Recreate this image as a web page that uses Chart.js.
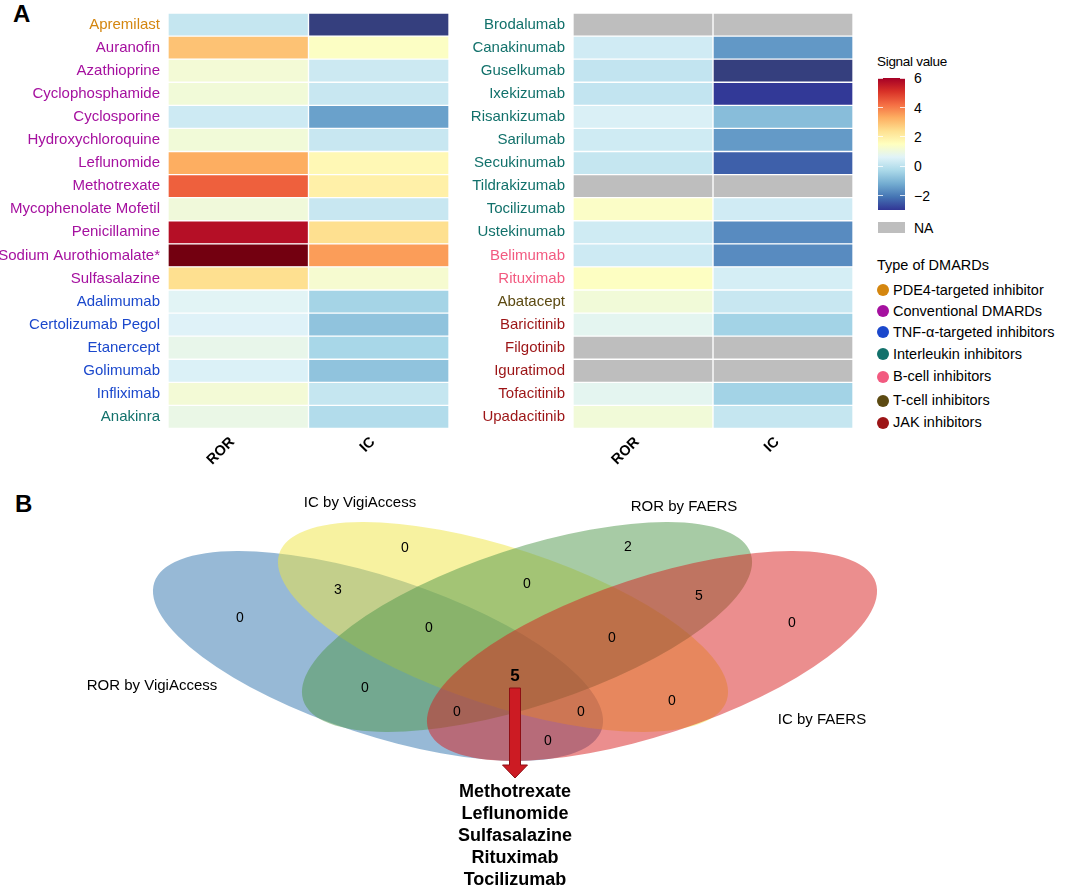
<!DOCTYPE html>
<html>
<head>
<meta charset="utf-8">
<script src="https://cdn.jsdelivr.net/npm/chart.js@4.4.1/dist/chart.umd.min.js"></script>
<style>
  body { margin: 0; background: #fff; font-family: "Liberation Sans", Arial, sans-serif; }
  #wrap { position: relative; width: 1065px; height: 887px; overflow: hidden; }
  #wrap canvas, .abs { position: absolute; }
  .abs { line-height: 1; white-space: nowrap; color: #000; }
</style>
</head>
<body>
<div id="wrap">
  <div class="abs" style="left:13px;top:2px;font-size:24px;font-weight:bold">A</div>
  <div class="abs" style="left:15px;top:492px;font-size:24px;font-weight:bold">B</div>
  <canvas id="hmLeft" width="455" height="480" style="left:0;top:0"></canvas>
  <canvas id="hmRight" width="460" height="480" style="left:400px;top:0"></canvas>
  <canvas id="venn" width="1065" height="407" style="left:0;top:480px"></canvas>
  <div id="legend"></div>
</div>
<script>
// ---- heatmap data ----
const colLabels = ["ROR", "IC"];
const groupNames = ["PDE4-targeted inhibitor", "Conventional DMARDs", "TNF-\u03b1-targeted inhibitors",
  "Interleukin inhibitors", "B-cell inhibitors", "T-cell inhibitors", "JAK inhibitors"];
const groupColors = ["#d4860f", "#a5109f", "#1b48cc", "#12716b", "#f25a80", "#5c4a12", "#9c1416"];

const leftDrugs = ["Apremilast", "Auranofin", "Azathioprine", "Cyclophosphamide", "Cyclosporine",
  "Hydroxychloroquine", "Leflunomide", "Methotrexate", "Mycophenolate Mofetil", "Penicillamine",
  "Sodium Aurothiomalate*", "Sulfasalazine", "Adalimumab", "Certolizumab Pegol", "Etanercept",
  "Golimumab", "Infliximab", "Anakinra"];
const leftGroups = [0, 1, 1, 1, 1, 1, 1, 1, 1, 1, 1, 1, 2, 2, 2, 2, 2, 3];
const leftROR = [0.14, 2.94, 1.14, 1.1, 0.28, 1.1, 3.3, 4.39, 1.07, 5.71, 7.5, 2.4, 0.65, 0.58, 0.82, 0.52, 1.14, 0.88];
const leftIC = [-3.5, 1.42, 0.26, 0.19, -1.4, 0.2, 1.7, 1.94, 0.19, 2.4, 3.54, 1.23, -0.4, -0.75, -0.35, -0.75, 0.14, -0.18];

const rightDrugs = ["Brodalumab", "Canakinumab", "Guselkumab", "Ixekizumab", "Risankizumab",
  "Sarilumab", "Secukinumab", "Tildrakizumab", "Tocilizumab", "Ustekinumab", "Belimumab",
  "Rituximab", "Abatacept", "Baricitinib", "Filgotinib", "Iguratimod", "Tofacitinib", "Upadacitinib"];
const rightGroups = [3, 3, 3, 3, 3, 3, 3, 3, 3, 3, 4, 4, 5, 6, 6, 6, 6, 6];
const rightROR = [null, 0.33, 0.09, 0.09, 0.5, 0.31, 0.14, null, 1.37, 0.31, 0.28, 1.45, 1.1, 0.73, null, null, 0.73, 1.1];
const rightIC = [null, -1.54, -3.5, -2.95, -0.87, -1.5, -2.4, null, 0.33, -1.74, -1.74, 0.41, 0.2, -0.43, null, null, -0.43, 0.14];

const barTicks = [6, 4, 2, 0, -2];

// ---- venn data ----
const vennSets = ["ROR by VigiAccess", "IC by VigiAccess", "ROR by FAERS", "IC by FAERS"];
const vennColors = ["#2f73ad", "#efe541", "#4f974b", "#d71d1d"];
const regionCounts = [0, 0, 2, 0, 3, 0, 5, 0, 0, 0, 0, 0, 0, 0, 5];
const commonDrugs = ["Methotrexate", "Leflunomide", "Sulfasalazine", "Rituximab", "Tocilizumab"];

// venn layout (in the venn chart's own units)
const ellX = [378, 503, 527, 652], ellY = [656, 627, 627, 656];
const ellA = 235.5, ellB = 78.8, ellRot = [18.2, 18.2, -18.2, -18.2];
const regionX = [240, 405, 628, 792, 338, 527, 699, 365, 672, 548, 429, 612, 457, 581, 515];
const regionY = [618, 548, 547, 623, 590, 584, 596, 688, 701, 741, 628, 638, 712, 712, 676];
const setLabelX = [152, 360, 684, 822], setLabelY = [686, 503, 507, 720];

// colour scale (RdYlBu, -3..6, darker beyond the ends)
const stops = [[-3.5, "#353f7e"], [-3, "#313695"], [-2.1, "#4575b4"], [-1.2, "#74add1"], [-0.3, "#abd9e9"],
  [0.6, "#e0f3f8"], [1.5, "#ffffbf"], [2.4, "#fee090"], [3.3, "#fdae61"], [4.2, "#f46d43"],
  [5.1, "#d73027"], [6, "#a50026"], [7.5, "#730010"]];
const hex = h => [1, 3, 5].map(i => parseInt(h.substr(i, 2), 16));
function signalColor(v) {
  if (v === null) return "#bebebe";
  if (v <= stops[0][0]) return stops[0][1];
  for (let i = 1; i < stops.length; i++) {
    if (v <= stops[i][0]) {
      const t = (v - stops[i - 1][0]) / (stops[i][0] - stops[i - 1][0]);
      const a = hex(stops[i - 1][1]), b = hex(stops[i][1]);
      return "rgb(" + a.map((c, k) => Math.round(c + (b[k] - c) * t)).join(",") + ")";
    }
  }
  return stops[stops.length - 1][1];
}

function heatmap(id, drugs, groups, ror, ic, yWidth, padRight) {
  return new Chart(document.getElementById(id), {
    type: "bar",
    data: {
      labels: drugs,
      datasets: [ror, ic].map((vals, k) => ({
        label: colLabels[k],
        data: vals.map(() => 1),
        backgroundColor: vals.map(signalColor),
        borderColor: "#ffffff",
        borderWidth: 1,
        borderSkipped: false,
        barPercentage: 1,
        categoryPercentage: 1,
      })),
    },
    options: {
      indexAxis: "y",
      responsive: false,
      animation: false,
      layout: { padding: { top: 13, right: padRight, bottom: 0, left: 0 } },
      plugins: { legend: { display: false }, tooltip: { enabled: false }, title: { display: false } },
      scales: {
        x: {
          stacked: true, min: 0, max: 2,
          grid: { display: false, drawTicks: false },
          border: { display: false },
          afterBuildTicks: (s) => { s.ticks = [{ value: 0.5 }, { value: 1.5 }]; },
          afterFit: (s) => { s.height = 51.5; s.paddingLeft = 0; s.paddingRight = 0; },
          ticks: {
            autoSkip: false, minRotation: 45, maxRotation: 45, padding: 5, labelOffset: -6,
            color: "#000", font: { family: "Liberation Sans", size: 14.5, weight: "bold" },
            callback: (v, i) => colLabels[i],
          },
        },
        y: {
          stacked: true,
          grid: { display: false, drawTicks: false },
          border: { display: false },
          afterFit: (s) => { s.width = yWidth; s.paddingTop = 0; s.paddingBottom = 0; },
          ticks: {
            padding: 8, autoSkip: false,
            font: { family: "Liberation Sans", size: 15 },
            color: (c) => groupColors[groups[c.index]],
          },
        },
      },
    },
  });
}

heatmap("hmLeft", leftDrugs, leftGroups, leftROR, leftIC, 168, 6);
heatmap("hmRight", rightDrugs, rightGroups, rightROR, rightIC, 173, 7);

// ---- legends (html) ----
const legend = document.getElementById("legend");
function addDiv(html, style) {
  const d = document.createElement("div");
  d.className = "abs";
  d.innerHTML = html;
  d.setAttribute("style", style);
  legend.appendChild(d);
  return d;
}
const barTop = 78.3, barBottom = 210.3, vMax = 6, vMin = -3;
const grad = [];
for (let i = stops.length - 1; i >= 0; i--) {
  const v = stops[i][0];
  if (v > vMax || v < vMin) continue;
  grad.push(signalColor(v) + " " + ((vMax - v) / (vMax - vMin) * 100).toFixed(1) + "%");
}
addDiv("Signal value", "left:877px;top:55px;font-size:13.5px;letter-spacing:-0.3px");
addDiv("", `left:878px;top:${barTop}px;width:27px;height:${barBottom - barTop}px;background:linear-gradient(to bottom, ${grad.join(",")})`);
barTicks.forEach(t => {
  const y = barTop + (vMax - t) / (vMax - vMin) * (barBottom - barTop);
  addDiv("", `left:878px;top:${y - 0.5}px;width:5px;height:1px;background:rgba(255,255,255,0.8)`);
  addDiv("", `left:900px;top:${y - 0.5}px;width:5px;height:1px;background:rgba(255,255,255,0.8)`);
  addDiv(t < 0 ? "\u2212" + Math.abs(t) : String(t), `left:914px;top:${y - 7}px;font-size:14px`);
});
addDiv("", "left:878px;top:222px;width:27px;height:11px;background:#bebebe");
addDiv("NA", "left:914px;top:221px;font-size:14px");
addDiv("Type of DMARDs", "left:877px;top:258px;font-size:14.5px");
const itemY = [290, 311, 332, 354, 376.5, 400.5, 422.5];
groupNames.forEach((g, i) => {
  addDiv("", `left:877px;top:${itemY[i] - 6}px;width:12px;height:12px;border-radius:50%;background:${groupColors[i]}`);
  addDiv(g, `left:893px;top:${itemY[i] - 7.3}px;font-size:14.5px`);
});

// ---- venn diagram ----
const vennPlugin = {
  id: "vennDraw",
  beforeDatasetsDraw(chart) {
    const { ctx, scales: { x, y } } = chart;
    ctx.save();
    ctx.globalAlpha = 0.5;
    vennSets.forEach((s, i) => {
      const cx = x.getPixelForValue(ellX[i]), cy = y.getPixelForValue(ellY[i]);
      const rx = Math.abs(x.getPixelForValue(ellX[i] + ellA) - cx);
      const ry = Math.abs(y.getPixelForValue(ellY[i] + ellB) - cy);
      ctx.beginPath();
      ctx.ellipse(cx, cy, rx, ry, ellRot[i] * Math.PI / 180, 0, Math.PI * 2);
      ctx.fillStyle = vennColors[i];
      ctx.fill();
    });
    ctx.restore();
  },
  afterDatasetsDraw(chart) {
    const { ctx, scales: { x, y } } = chart;
    ctx.save();
    ctx.textAlign = "center";
    ctx.textBaseline = "middle";
    ctx.fillStyle = "#000";
    regionCounts.forEach((n, i) => {
      const last = i === regionCounts.length - 1;
      ctx.font = last ? "bold 17px 'Liberation Sans'" : "14px 'Liberation Sans'";
      ctx.fillText(String(n), x.getPixelForValue(regionX[i]), y.getPixelForValue(regionY[i]));
    });
    ctx.font = "15px 'Liberation Sans'";
    vennSets.forEach((s, i) => {
      ctx.fillText(s, x.getPixelForValue(setLabelX[i]), y.getPixelForValue(setLabelY[i]));
    });
    // arrow from the shared region to the drug list
    const ax = x.getPixelForValue(515), y0 = y.getPixelForValue(688), yh = y.getPixelForValue(765), y1 = y.getPixelForValue(778);
    ctx.beginPath();
    ctx.moveTo(ax - 5.5, y0); ctx.lineTo(ax + 5.5, y0); ctx.lineTo(ax + 5.5, yh);
    ctx.lineTo(ax + 12.5, yh); ctx.lineTo(ax, y1); ctx.lineTo(ax - 12.5, yh);
    ctx.lineTo(ax - 5.5, yh); ctx.closePath();
    ctx.fillStyle = "#cc1b23";
    ctx.fill();
    ctx.strokeStyle = "#8e0e14";
    ctx.lineWidth = 1;
    ctx.stroke();
    ctx.fillStyle = "#000";
    ctx.font = "bold 18px 'Liberation Sans'";
    commonDrugs.forEach((d, i) => {
      ctx.fillText(d, x.getPixelForValue(515), y.getPixelForValue(792 + i * 22));
    });
    ctx.restore();
  },
};

new Chart(document.getElementById("venn"), {
  type: "scatter",
  data: {
    datasets: [{
      data: regionCounts.map((n, i) => ({ x: regionX[i], y: regionY[i] })),
      pointRadius: 0,
    }],
  },
  options: {
    responsive: false,
    animation: false,
    layout: { padding: 0 },
    plugins: { legend: { display: false }, tooltip: { enabled: false } },
    scales: {
      x: { type: "linear", min: 0, max: 1065, display: false },
      y: { type: "linear", min: 480, max: 887, reverse: true, display: false },
    },
  },
  plugins: [vennPlugin],
});
</script>
</body>
</html>
